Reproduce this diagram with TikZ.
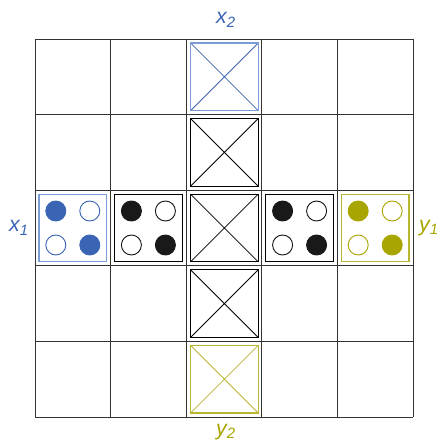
\documentclass[tikz,border=0pt]{standalone}
\usepackage{fontspec}
\setmainfont{Liberation Sans}
\usetikzlibrary{calc}
\definecolor{xblue}{HTML}{3A65B5}
\definecolor{xbluebox}{HTML}{7C9CD8}
\definecolor{yolive}{HTML}{A8A500}
\definecolor{yolivebox}{HTML}{B8B530}
\definecolor{gridc}{HTML}{333333}
\tikzset{
  gridline/.style={draw=gridc, line width=0.7pt},
  cellbox/.style={draw, line width=0.9pt, minimum size=50.7pt, inner sep=0pt, outer sep=0pt},
  crossbox/.style={cellbox, path picture={\draw[line width=0.6pt] (path picture bounding box.north west) -- (path picture bounding box.south east) (path picture bounding box.north east) -- (path picture bounding box.south west);}},
  dot/.style={circle, draw, line width=0.7pt, minimum size=15pt, inner sep=0pt},
  lab/.style={font=\itshape\fontsize{16}{16}\selectfont, inner sep=0pt}
}
\begin{document}
\begin{tikzpicture}[x=0.75pt,y=-0.75pt]
\useasboundingbox (0,0) rectangle (438,442);
% grid
\foreach \i in {0,...,5} {
  \draw[gridline] ({35+75.6*\i},39) -- ({35+75.6*\i},417);
  \draw[gridline] (35,{39+75.6*\i}) -- (413,{39+75.6*\i});
}
% cross boxes in centre column
\node[crossbox, draw=xbluebox, path picture={\draw[xblue, line width=0.6pt] (path picture bounding box.north west) -- (path picture bounding box.south east) (path picture bounding box.north east) -- (path picture bounding box.south west);}] (b1) at (224.4,76.8) {};
\node[crossbox, draw=black] (b2) at (224.4,152.4) {};
\node[crossbox, draw=black] (b3) at (224.4,228) {};
\node[crossbox, draw=black] (b4) at (224.4,303.6) {};
\node[crossbox, draw=yolivebox, path picture={\draw[yolivebox, line width=0.6pt] (path picture bounding box.north west) -- (path picture bounding box.south east) (path picture bounding box.north east) -- (path picture bounding box.south west);}] (b5) at (224.4,379.2) {};
% dot boxes in centre row
\node[cellbox, draw=xbluebox] (c1) at (72.8,228) {};
\node[cellbox, draw=black] (c2) at (148.4,228) {};
\node[cellbox, draw=black] (c4) at (299.6,228) {};
\node[cellbox, draw=yolivebox] (c5) at (375.2,228) {};
% dots
\node[dot, draw=xblue, fill=xblue] (d1a) at ($(c1)+(-17,-17)$) {};
\node[dot, draw=xblue] (d1b) at ($(c1)+(17,-17)$) {};
\node[dot, draw=xblue] (d1c) at ($(c1)+(-17,17)$) {};
\node[dot, draw=xblue, fill=xblue] (d1d) at ($(c1)+(17,17)$) {};
\node[dot, draw=black!90, fill=black!90] (d2a) at ($(c2)+(-17,-17)$) {};
\node[dot, draw=black!90] (d2b) at ($(c2)+(17,-17)$) {};
\node[dot, draw=black!90] (d2c) at ($(c2)+(-17,17)$) {};
\node[dot, draw=black!90, fill=black!90] (d2d) at ($(c2)+(17,17)$) {};
\node[dot, draw=black!90, fill=black!90] (d4a) at ($(c4)+(-17,-17)$) {};
\node[dot, draw=black!90] (d4b) at ($(c4)+(17,-17)$) {};
\node[dot, draw=black!90] (d4c) at ($(c4)+(-17,17)$) {};
\node[dot, draw=black!90, fill=black!90] (d4d) at ($(c4)+(17,17)$) {};
\node[dot, draw=yolive, fill=yolive] (d5a) at ($(c5)+(-17,-17)$) {};
\node[dot, draw=yolive] (d5b) at ($(c5)+(17,-17)$) {};
\node[dot, draw=yolive] (d5c) at ($(c5)+(-17,17)$) {};
\node[dot, draw=yolive, fill=yolive] (d5d) at ($(c5)+(17,17)$) {};
% labels
\node[lab, text=xblue] (lx2) at (226,20) {x\textsubscript{2}};
\node[lab, text=xblue] (lx1) at (19,228) {x\textsubscript{1}};
\node[lab, text=yolive] (ly1) at (429,228) {y\textsubscript{1}};
\node[lab, text=yolive] (ly2) at (226,432) {y\textsubscript{2}};
\end{tikzpicture}
\end{document}
